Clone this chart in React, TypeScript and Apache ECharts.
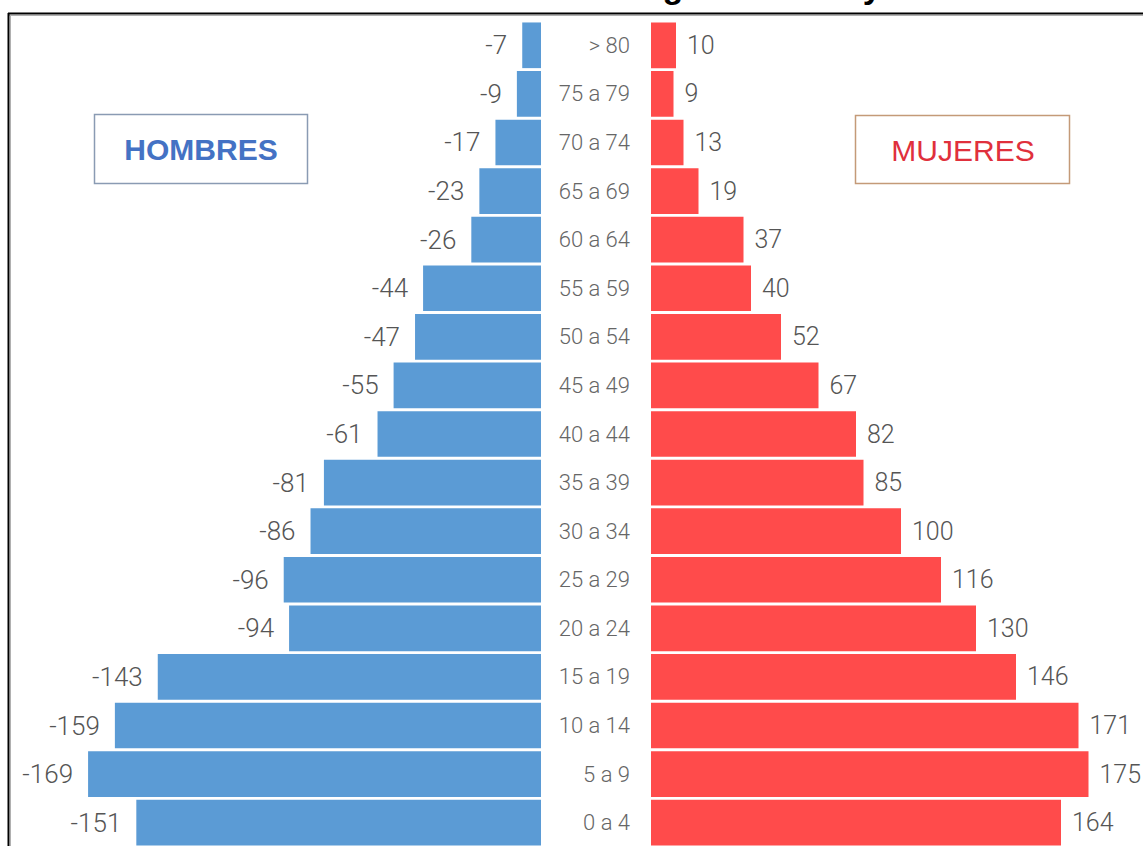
import React, { useEffect, useRef } from "react";
import * as echarts from "echarts";

const categories = ["0 a 4", "5 a 9", "10 a 14", "15 a 19", "20 a 24", "25 a 29", "30 a 34", "35 a 39", "40 a 44", "45 a 49", "50 a 54", "55 a 59", "60 a 64", "65 a 69", "70 a 74", "75 a 79", "> 80"];
const hombres = [-151, -169, -159, -143, -94, -96, -86, -81, -61, -55, -47, -44, -26, -23, -17, -9, -7];
const mujeres = [164, 175, 171, 146, 130, 116, 100, 85, 82, 67, 52, 40, 37, 19, 13, 9, 10];
const legendHombres = "HOMBRES";
const legendMujeres = "MUJERES";
const titleText = "Pirámide de Población según Género y Edad";

const W = 1143;
const H = 846;
const valueFont = "Roboto, 'Liberation Sans', sans-serif";
const catFont = "Roboto, 'Liberation Sans', sans-serif";

export default function App() {
  const ref = useRef<HTMLDivElement>(null);
  useEffect(() => {
    if (!ref.current) return;
    const chart = echarts.init(ref.current, null, { renderer: "svg" });

    const titleFontSize = 34;
    let titleX = 420;
    try {
      const c = document.createElement("canvas").getContext("2d");
      if (c) {
        c.font = `bold ${titleFontSize}px 'Liberation Sans'`;
        const idx = titleText.indexOf("g");
        const pre = c.measureText(titleText.slice(0, idx)).width;
        const gw = c.measureText("g").width;
        titleX = 673 - pre - gw / 2;
      }
    } catch (e) {}

    chart.setOption({
      animation: false,
      backgroundColor: "#ffffff",
      grid: [
        { left: 5, right: W - 541, top: 21, height: 826, containLabel: false, outerBoundsMode: "none" },
        { left: 651, right: W - 1101, top: 21, height: 826, containLabel: false, outerBoundsMode: "none" },
      ],
      xAxis: [
        { type: "value", gridIndex: 0, min: -200, max: 0, show: false },
        { type: "value", gridIndex: 1, min: 0, max: 180, show: false },
      ],
      yAxis: [
        { type: "category", gridIndex: 0, data: categories, show: false },
        {
          type: "category",
          gridIndex: 1,
          data: categories,
          axisLine: { show: false },
          axisTick: { show: false },
          splitLine: { show: false },
          axisLabel: {
            margin: 21,
            color: "#666666",
            fontSize: 22,
            fontWeight: 300,
            fontFamily: catFont,
          },
        },
      ],
      series: [
        {
          type: "bar",
          name: legendHombres,
          xAxisIndex: 0,
          yAxisIndex: 0,
          data: hombres,
          barCategoryGap: "6%",
          itemStyle: { color: "#5B9BD5" },
          label: {
            show: true,
            position: "left",
            distance: 15,
            color: "#555555",
            fontSize: 26,
            fontWeight: 300,
            fontFamily: valueFont,
          },
        },
        {
          type: "bar",
          name: legendMujeres,
          xAxisIndex: 1,
          yAxisIndex: 1,
          data: mujeres,
          barCategoryGap: "6%",
          itemStyle: { color: "#FF4B4B" },
          label: {
            show: true,
            position: "right",
            distance: 11,
            color: "#555555",
            fontSize: 25,
            fontWeight: 300,
            fontFamily: valueFont,
          },
        },
      ],
      graphic: [
        {
          type: "text",
          x: titleX,
          y: -14,
          style: {
            text: titleText,
            fontSize: titleFontSize,
            fontWeight: "bold",
            fontFamily: "'Liberation Sans', sans-serif",
            fill: "#000000",
            textVerticalAlign: "middle",
          },
        },
        { type: "line", shape: { x1: 8, y1: 15.5, x2: W, y2: 15.5 }, style: { stroke: "#b0b0b0", lineWidth: 1 } },
        { type: "line", shape: { x1: 10.5, y1: 15, x2: 10.5, y2: H }, style: { stroke: "#b0b0b0", lineWidth: 1 } },
        { type: "line", shape: { x1: 8, y1: 13.5, x2: W, y2: 13.5 }, style: { stroke: "#000000", lineWidth: 2 } },
        { type: "line", shape: { x1: 8.5, y1: 13, x2: 8.5, y2: H }, style: { stroke: "#000000", lineWidth: 2 } },
        {
          type: "rect",
          shape: { x: 94.5, y: 114.5, width: 213, height: 69 },
          style: { fill: "#ffffff", stroke: "#8a9bb3", lineWidth: 1.5 },
        },
        {
          type: "text",
          x: 201,
          y: 149,
          style: {
            text: legendHombres,
            fontSize: 30,
            fontWeight: "bold",
            fontFamily: "'Liberation Sans', sans-serif",
            fill: "#4472C4",
            textAlign: "center",
            textVerticalAlign: "middle",
          },
        },
        {
          type: "rect",
          shape: { x: 855.5, y: 115.5, width: 214, height: 68 },
          style: { fill: "#ffffff", stroke: "#c49a78", lineWidth: 1.5 },
        },
        {
          type: "text",
          x: 963,
          y: 150,
          style: {
            text: legendMujeres,
            fontSize: 30,
            fontFamily: "'Liberation Sans', sans-serif",
            fill: "#E0303C",
            textAlign: "center",
            textVerticalAlign: "middle",
          },
        },
      ],
    });
    return () => chart.dispose();
  }, []);
  return <div ref={ref} style={{ position: "absolute", left: 0, top: 0, width: W, height: H }} />;
}
